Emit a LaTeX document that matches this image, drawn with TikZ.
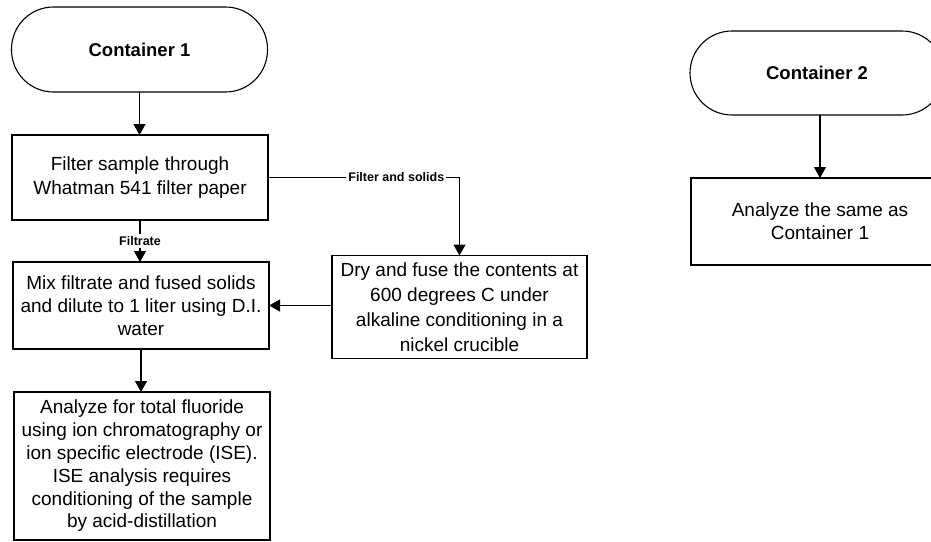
\documentclass[tikz,border=0pt]{standalone}
\usepackage{fontspec}
\setmainfont{Liberation Sans}
\usetikzlibrary{arrows.meta}

\tikzset{
  x=1pt, y=-1pt,
  every node/.style={inner sep=0pt, outer sep=0pt},
  flow/.style={draw=black, line width=1.1pt, rectangle, align=center,
    font=\fontsize{19}{24}\selectfont},
  terminal/.style={draw=black, line width=1.1pt, rectangle, rounded corners=42pt,
    font=\fontsize{18.5}{22}\selectfont\bfseries},
  link/.style={line width=1.1pt, -{Triangle[width=12pt,length=11pt]}},
  tag/.style={fill=white, inner xsep=2pt, font=\fontsize{12.5}{14}\selectfont\bfseries}
}

\begin{document}
\begin{tikzpicture}
  \useasboundingbox (0,0) rectangle (931,541);
  \clip (0,0) rectangle (931,541);

  % left column
  \node[terminal, minimum width=256pt, minimum height=85pt] (c1) at (139.5,49.5) {Container 1};
  \node[flow, minimum width=256pt, minimum height=85pt,
        font=\fontsize{19}{24}\selectfont] (filt) at (140,177.5)
        {Filter sample through\\Whatman 541 filter paper};
  \node[flow, minimum width=256pt, minimum height=87pt,
        font=\fontsize{19}{23}\selectfont] (mix) at (141,305.5)
        {Mix filtrate and fused solids\\and dilute to 1 liter using D.I.\\water};
  \node[flow, minimum width=256pt, minimum height=148pt,
        font=\fontsize{19}{22.8}\selectfont] (ana) at (142,466)
        {Analyze for total fluoride\\using ion chromatography or\\ion specific electrode (ISE).\\ISE analysis requires\\conditioning of the sample\\by acid-distillation};

  % middle column
  \node[flow, minimum width=255pt, minimum height=103pt,
        font=\fontsize{19}{25}\selectfont] (dry) at (459.5,307)
        {Dry and fuse the contents at\\600 degrees C under\\alkaline conditioning in a\\nickel crucible};

  % right column
  \node[terminal, minimum width=254pt, minimum height=84pt] (c2) at (817,73) {Container 2};
  \node[flow, minimum width=258pt, minimum height=87pt,
        font=\fontsize{19}{23}\selectfont] (same) at (820,221.5)
        {Analyze the same as\\Container 1};

  % connectors
  \draw[link] (c1.south) -- (c1.south |- filt.north);
  \draw[link] (filt.south) -- node[tag, inner ysep=2pt] {Filtrate} (filt.south |- mix.north);
  \coordinate (bend) at (dry.north |- filt.east);
  \draw[line width=1.1pt] (filt.east) -- node[tag, pos=0.67, inner ysep=1pt] {Filter and solids} (bend);
  \draw[link] (bend) -- (dry.north);
  \draw[link] (dry.west |- mix.east) -- (mix.east);
  \draw[link] (mix.south) -- (mix.south |- ana.north);
  \draw[link] (c2.south -| same.north) -- (same.north);
\end{tikzpicture}
\end{document}
